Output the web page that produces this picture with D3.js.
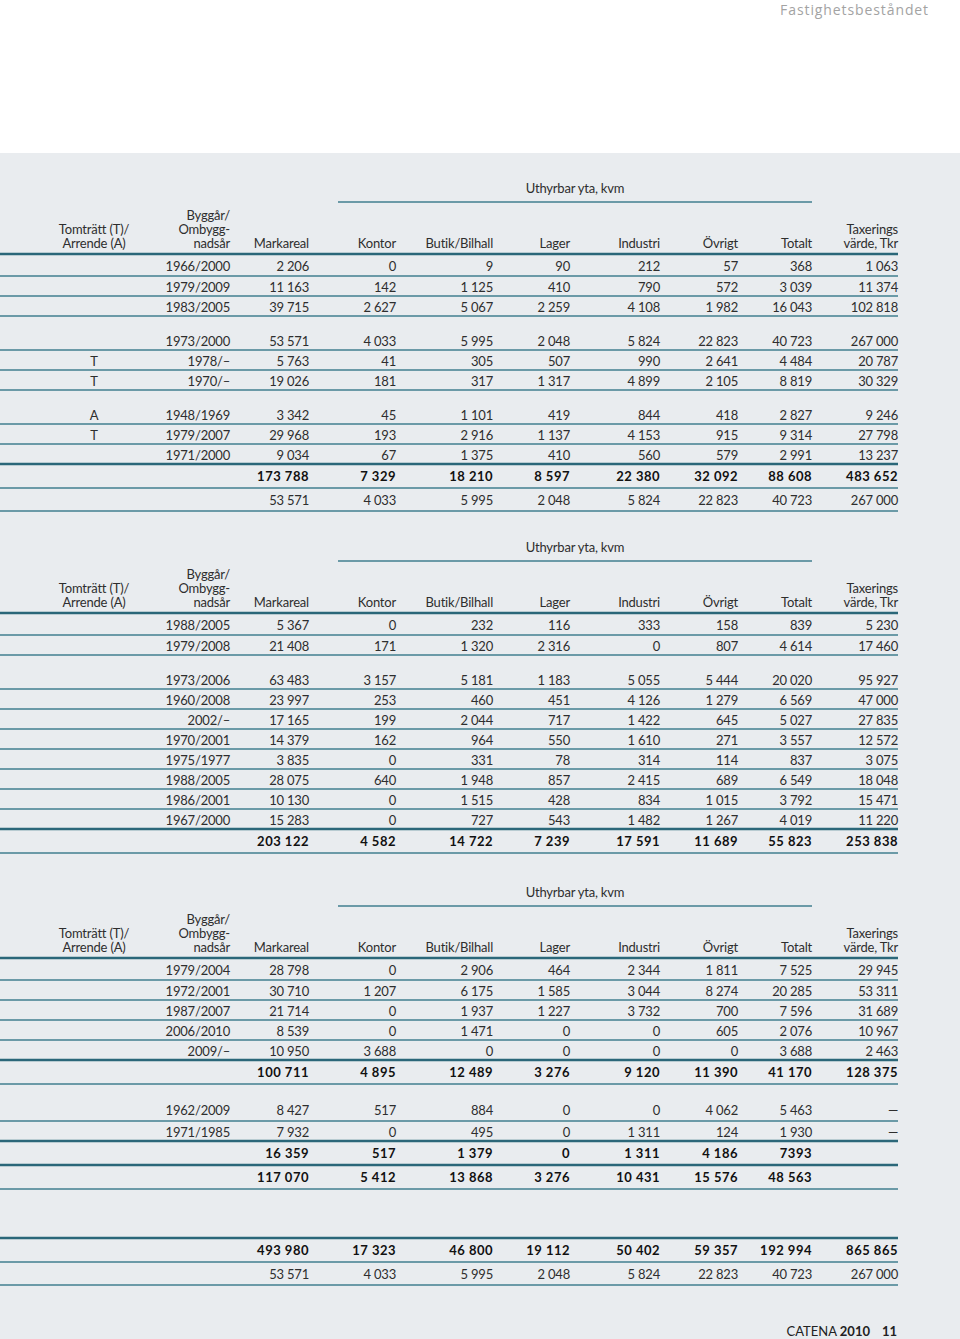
<!DOCTYPE html>
<html>
<head>
<meta charset="utf-8">
<script src="https://cdn.jsdelivr.net/npm/d3@7"></script>
<style>
  body { margin: 0; background: #fff; }
  text { font-family: Lato, "Open Sans", sans-serif; }
</style>
</head>
<body>
<div id="page"></div>
<script>
// column headers
const cols = ["Markareal", "Kontor", "Butik/Bilhall", "Lager", "Industri", "Övrigt", "Totalt", "Taxerings"];

// table 1
const t1Lease = ["", "", "", "", "T", "T", "A", "T", ""];
const t1Years = ["1966/2000", "1979/2009", "1983/2005", "1973/2000", "1978/–", "1970/–", "1948/1969", "1979/2007", "1971/2000"];
const t1Values = [
    [2206, 0, 9, 90, 212, 57, 368, 1063],
    [11163, 142, 1125, 410, 790, 572, 3039, 11374],
    [39715, 2627, 5067, 2259, 4108, 1982, 16043, 102818],
    [53571, 4033, 5995, 2048, 5824, 22823, 40723, 267000],
    [5763, 41, 305, 507, 990, 2641, 4484, 20787],
    [19026, 181, 317, 1317, 4899, 2105, 8819, 30329],
    [3342, 45, 1101, 419, 844, 418, 2827, 9246],
    [29968, 193, 2916, 1137, 4153, 915, 9314, 27798],
    [9034, 67, 1375, 410, 560, 579, 2991, 13237]
];
const t1Total = [173788, 7329, 18210, 8597, 22380, 32092, 88608, 483652];
const t1Extra = [53571, 4033, 5995, 2048, 5824, 22823, 40723, 267000];

// table 2
const t2Years = ["1988/2005", "1979/2008", "1973/2006", "1960/2008", "2002/–", "1970/2001", "1975/1977", "1988/2005", "1986/2001", "1967/2000"];
const t2Values = [
    [5367, 0, 232, 116, 333, 158, 839, 5230],
    [21408, 171, 1320, 2316, 0, 807, 4614, 17460],
    [63483, 3157, 5181, 1183, 5055, 5444, 20020, 95927],
    [23997, 253, 460, 451, 4126, 1279, 6569, 47000],
    [17165, 199, 2044, 717, 1422, 645, 5027, 27835],
    [14379, 162, 964, 550, 1610, 271, 3557, 12572],
    [3835, 0, 331, 78, 314, 114, 837, 3075],
    [28075, 640, 1948, 857, 2415, 689, 6549, 18048],
    [10130, 0, 1515, 428, 834, 1015, 3792, 15471],
    [15283, 0, 727, 543, 1482, 1267, 4019, 11220]
];
const t2Total = [203122, 4582, 14722, 7239, 17591, 11689, 55823, 253838];

// table 3
const t3Years = ["1979/2004", "1972/2001", "1987/2007", "2006/2010", "2009/–", "1962/2009", "1971/1985"];
const t3Values = [
    [28798, 0, 2906, 464, 2344, 1811, 7525, 29945],
    [30710, 1207, 6175, 1585, 3044, 8274, 20285, 53311],
    [21714, 0, 1937, 1227, 3732, 700, 7596, 31689],
    [8539, 0, 1471, 0, 0, 605, 2076, 10967],
    [10950, 3688, 0, 0, 0, 0, 3688, 2463],
    [8427, 517, 884, 0, 0, 4062, 5463, "—"],
    [7932, 0, 495, 0, 1311, 124, 1930, "—"]
];
const t3SubA = [100711, 4895, 12489, 3276, 9120, 11390, 41170, 128375];
const t3SubB = [16359, 517, 1379, 0, 1311, 4186, "7393", ""];
const t3Total = [117070, 5412, 13868, 3276, 10431, 15576, 48563, ""];

// grand total
const grandTotal = [493980, 17323, 46800, 19112, 50402, 59357, 192994, 865865];
const grandExtra = [53571, 4033, 5995, 2048, 5824, 22823, 40723, 267000];

const W = 960, H = 1339;
const textColor = "#2e2e2e", thickColor = "#2b6779", thinColor = "#417f8f";

const fmtNum = d3.formatLocale({ decimal: ",", thousands: " ", grouping: [3], currency: ["", ""] }).format(",d");
const fmt = v => typeof v === "number" ? fmtNum(v) : v;

const x = d3.scaleOrdinal().domain(cols).range([309, 396, 493, 570, 660, 738, 812, 898]);
const xLease = 94, xYear = 230, ruleLeft = 0, ruleRight = 898;

const svg = d3.select("#page").append("svg")
    .attr("width", W).attr("height", H);

svg.append("rect").attr("x", 0).attr("y", 153).attr("width", W).attr("height", H - 153)
    .attr("fill", "#e9ecef");

svg.append("text").attr("x", 929).attr("y", 15)
    .attr("text-anchor", "end").attr("fill", "#a3a3a3")
    .style("font-family", "'Open Sans', sans-serif")
    .style("font-size", "14px").style("letter-spacing", "0.9px")
    .text("Fastighetsbeståndet");

function rule(y, thick, x1, x2) {
    svg.append("line")
        .attr("x1", x1 === undefined ? ruleLeft : x1).attr("x2", x2 === undefined ? ruleRight : x2)
        .attr("y1", y).attr("y2", y)
        .attr("stroke", thick ? thickColor : thinColor)
        .attr("stroke-width", thick ? 2.5 : 1.5);
}

function label(x0, y, txt, anchor, bold) {
    svg.append("text").attr("x", x0).attr("y", y)
        .attr("text-anchor", anchor || "end")
        .attr("fill", bold ? "#111" : textColor)
        .style("font-size", "13px")
        .style("font-weight", bold ? 700 : 400)
        .style("letter-spacing", bold ? "0.5px" : "-0.2px")
        .text(txt);
}

function header(Y) {
    label(575, Y - 61, "Uthyrbar yta, kvm", "middle");
    rule(Y - 52, false, 338, 812);
    label(xYear, Y - 34.5, "Byggår/");
    label(xYear, Y - 20.5, "Ombygg-");
    label(xYear, Y - 6.5, "nadsår");
    label(xLease, Y - 20.5, "Tomträtt (T)/", "middle");
    label(xLease, Y - 6.5, "Arrende (A)", "middle");
    cols.forEach(c => {
        if (c === "Taxerings") {
            label(x(c), Y - 20.5, "Taxerings");
            label(x(c), Y - 6.5, "värde, Tkr");
        } else {
            label(x(c), Y - 6.5, c);
        }
    });
    rule(Y, true);
}

// rows: {lease, year, values, bold, gap}
function body(Y, rows) {
    let y = Y;
    rows.forEach((r, k) => {
        if (r.gap) y += 14;
        const prevBold = k > 0 && rows[k - 1].bold;
        const h = r.bold ? 24 : (k === 0 ? 22 : (prevBold ? 23 : 20));
        const c = y + (r.bold || k === 0 || prevBold ? 12 : 11);
        const base = c + 4.5;
        if (r.lease) label(xLease, base, r.lease, "middle");
        if (r.year) label(xYear, base, r.year);
        r.values.forEach((v, i) => label(x(cols[i]), base, fmt(v), "end", r.bold));
        y += h;
        const next = rows[k + 1];
        rule(y, next && next.bold);
    });
}

function plainRows(lease, years, values, from, to, gapFirst) {
    return d3.range(from, to).map((i, j) => ({
        lease: lease ? lease[i] : "", year: years[i], values: values[i],
        bold: false, gap: gapFirst && j === 0
    }));
}

// table 1
header(254);
body(254, [
    ...plainRows(t1Lease, t1Years, t1Values, 0, 3, false),
    ...plainRows(t1Lease, t1Years, t1Values, 3, 6, true),
    ...plainRows(t1Lease, t1Years, t1Values, 6, 9, true),
    { values: t1Total, bold: true },
    { values: t1Extra, bold: false }
]);

// table 2
header(613);
body(613, [
    ...plainRows(null, t2Years, t2Values, 0, 2, false),
    ...plainRows(null, t2Years, t2Values, 2, 10, true),
    { values: t2Total, bold: true }
]);

// table 3
header(958);
body(958, [
    ...plainRows(null, t3Years, t3Values, 0, 5, false),
    { values: t3SubA, bold: true },
    ...plainRows(null, t3Years, t3Values, 5, 7, true),
    { values: t3SubB, bold: true },
    { values: t3Total, bold: true }
]);

// grand total
rule(1238, true);
body(1238, [
    { values: grandTotal, bold: true },
    { values: grandExtra, bold: false }
]);

// footer
const foot = svg.append("text").attr("x", 870).attr("y", 1336)
    .attr("text-anchor", "end").attr("fill", "#222").style("font-size", "13px");
foot.append("tspan").text("CATENA ");
foot.append("tspan").style("font-weight", 700).text("2010");
svg.append("text").attr("x", 897).attr("y", 1336)
    .attr("text-anchor", "end").attr("fill", "#222")
    .style("font-size", "13px").style("font-weight", 700).text("11");
</script>
</body>
</html>
